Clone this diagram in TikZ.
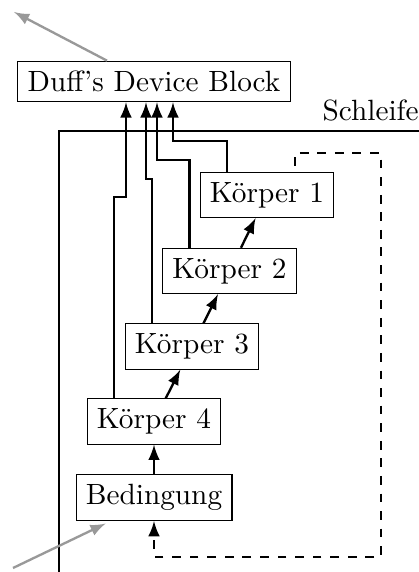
\documentclass[tikz,border=0pt]{standalone}
\usepackage{amsmath,amssymb}
\usepackage{tikz}
\usetikzlibrary{calc}
\usetikzlibrary{arrows}

\begin{document}
\begin{tikzpicture}
\tikzset{block/.style={draw,rectangle},
  con/.style={thick,-latex},
  ext/.style={thick,-latex,black!40}}
\useasboundingbox (0,0) rectangle (5.016,6.864);

% Bloecke
\node (d) at (1.848,5.886) [block] {Duff's Device Block};
\node (k1) at (3.204,4.524) [block] {K\"orper 1};
\node (k2) at (2.754,3.612) [block] {K\"orper 2};
\node (k3) at (2.304,2.706) [block] {K\"orper 3};
\node (k4) at (1.848,1.806) [block] {K\"orper 4};
\node (b) at (1.848,0.894) [block] {Bedingung};
% Schleife
\coordinate (s1) at (0.708,0);
\coordinate (s2) at (0.708,5.292);
\coordinate (s3) at (5.1,5.292);
\node (s) at (5.03,5.292) [anchor=south east,inner xsep=0pt] {Schleife};
\draw (s1) -- (s2) -- (s3);
% Ein- und Ausgang
\coordinate (ein) at (0.156,0.048);
\coordinate (aus) at (0.168,6.72);
\draw[ext] (ein) -- ([xshift=-0.58cm,yshift=-0.03cm]b.south);
\draw[ext] ([xshift=-0.564cm]d.north) -- (aus);

\path
(b) edge [con] (k4)
(k4) edge [con] (k3)
(k3) edge [con] (k2)
(k2) edge [con] (k1);

% Spruenge zum Block
\draw[con] ([xshift=-0.48cm]k1.north) |- ([xshift=0.228cm,yshift=-0.468cm]d.south) -- ([xshift=0.228cm]d.south);
\draw[con] ([xshift=-0.48cm]k2.north) |- ([xshift=0.036cm,yshift=-0.696cm]d.south) -- ([xshift=0.036cm]d.south);
\draw[con] ([xshift=-0.48cm]k3.north) |- ([xshift=-0.096cm,yshift=-0.924cm]d.south) -- ([xshift=-0.096cm]d.south);
\draw[con] ([xshift=-0.48cm]k4.north) |- ([xshift=-0.336cm,yshift=-1.14cm]d.south) -- ([xshift=-0.336cm]d.south);

% Rueckkante
\draw[con,dashed] ([xshift=0.336cm,yshift=0.072cm]k1.north) |- (4.572,5.028) |- (1.848,0.18) -- (b.south);

\end{tikzpicture}
\end{document}
